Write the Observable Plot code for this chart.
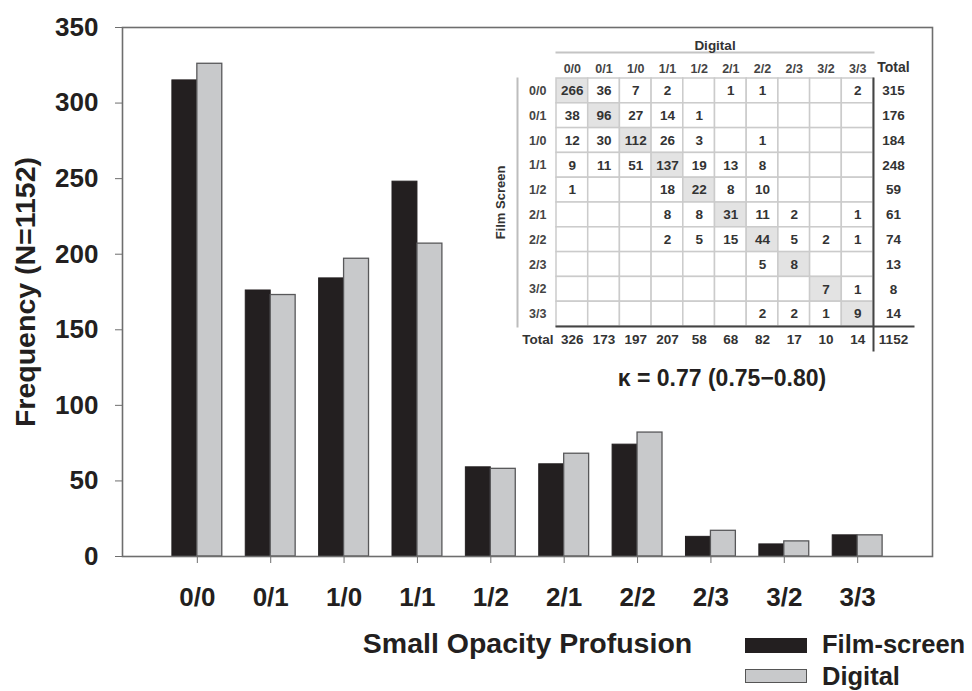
<!DOCTYPE html>
<html><head><meta charset="utf-8">
<script src="https://cdn.jsdelivr.net/npm/d3@7"></script>
<script src="https://cdn.jsdelivr.net/npm/@observablehq/plot@0.6"></script>
<style>
body{margin:0;background:#fff;}
#wrap{position:relative;width:972px;height:691px;font-family:"Liberation Sans",Arial,sans-serif;}
#inset{position:absolute;left:490px;top:30px;}
.sw{position:absolute;left:745px;width:62px;box-sizing:border-box;}
.lt{position:absolute;left:822px;font-weight:bold;font-size:25.5px;color:#231f20;line-height:1;}
</style></head><body>
<div id="wrap"><div id="inset"></div>
<div class="sw" style="top:638px;height:15px;background:#231f20;"></div>
<div class="lt" style="top:632px;">Film-screen</div>
<div class="sw" style="top:669px;height:14px;background:#c8c9cb;border:1.5px solid #555;"></div>
<div class="lt" style="top:664px;">Digital</div>
</div>
<script>
const categories = ["0/0","0/1","1/0","1/1","1/2","2/1","2/2","2/3","3/2","3/3"];
const filmScreen = [315,176,184,248,59,61,74,13,8,14];
const digital = [326,173,197,207,58,68,82,17,10,14];
const yTicks = [0,50,100,150,200,250,300,350];
const grandTotal = 1152;
const kappaText = "κ = 0.77 (0.75−0.80)";
// rows: film-screen reading, columns: digital reading
const crossTab = [
  [266,36,7,2,null,1,1,null,null,2],
  [38,96,27,14,1,null,null,null,null,null],
  [12,30,112,26,3,null,1,null,null,null],
  [9,11,51,137,19,13,8,null,null,null],
  [1,null,null,18,22,8,10,null,null,null],
  [null,null,null,8,8,31,11,2,null,1],
  [null,null,null,2,5,15,44,5,2,1],
  [null,null,null,null,null,null,5,8,null,null],
  [null,null,null,null,null,null,null,null,7,1],
  [null,null,null,null,null,null,2,2,1,9]
];

const FONT = "Liberation Sans, Arial, sans-serif";
const barData = categories.map((c,i)=>({cat:c, film:filmScreen[i], digital:digital[i]}));
const pIn = 0.32, pOut = 0.68;
const step = (972-122-40)/(categories.length - pIn + 2*pOut);
const half = step*(1-pIn)/2;

const main = Plot.plot({
  width:972, height:691, marginLeft:122, marginRight:40, marginTop:27, marginBottom:135,
  style:{fontFamily:FONT, fontWeight:"bold", fontSize:"26px", color:"#231f20", background:"transparent"},
  x:{type:"band", domain:categories, paddingInner:pIn, paddingOuter:pOut, round:false},
  y:{domain:[0,350]},
  marks:[
    Plot.barY(barData,{x:"cat", y:"film", fill:"#231f20", stroke:"#231f20", strokeWidth:1, insetRight:half}),
    Plot.barY(barData,{x:"cat", y:"digital", fill:"#c8c9cb", stroke:"#58585a", strokeWidth:1.3, insetLeft:half}),
    Plot.frame({stroke:"#6e6e6e", strokeWidth:1.6}),
    Plot.axisY({ticks:yTicks, tickSize:7, tickPadding:17, stroke:"#6e6e6e", fill:"#231f20", fontSize:26, label:null}),
    Plot.axisY({ticks:[], label:"Frequency (N=1152)", labelAnchor:"center", labelOffset:108, labelArrow:"none", fontSize:28.5, fill:"#231f20"}),
    Plot.axisX({tickSize:7, tickPadding:24, stroke:"#6e6e6e", fill:"#231f20", fontSize:26, label:null}),
    Plot.axisX({ticks:[], label:"Small Opacity Profusion", labelAnchor:"center", labelOffset:96, labelArrow:"none", fontSize:28.5, fill:"#231f20"})
  ]
});
document.getElementById("wrap").prepend(main);

const cellData = [];
categories.forEach((r,i)=>categories.forEach((c,j)=>cellData.push({row:r, col:c, v:crossTab[i][j], diag:i===j})));
const rowTotals = categories.map((c,i)=>({row:c, t:filmScreen[i]}));
const colTotals = categories.map((c,i)=>({col:c, t:digital[i]}));

const inset = Plot.plot({
  width:450, height:370, marginLeft:66, marginRight:67, marginTop:48, marginBottom:74,
  style:{fontFamily:FONT, fontWeight:"bold", fontSize:"13px", color:"#333", background:"transparent"},
  x:{type:"band", domain:categories, padding:0, round:false},
  y:{type:"band", domain:categories, padding:0, round:false},
  marks:[
    Plot.cell(cellData,{x:"col", y:"row", fill:d=>d.diag?"#e3e3e3":"#ffffff", stroke:"#cbcbcb", strokeWidth:1.5}),
    Plot.text(cellData.filter(d=>d.v!=null),{x:"col", y:"row", text:d=>String(d.v), fill:"#333", fontSize:13.5}),
    Plot.frame({anchor:"bottom", stroke:"#444", strokeWidth:2, insetRight:-40}),
    Plot.frame({anchor:"right", stroke:"#444", strokeWidth:2, insetBottom:-24}),
    Plot.frame({anchor:"top", stroke:"#c4c4c4", strokeWidth:2, insetTop:-26}),
    Plot.frame({anchor:"left", stroke:"#bdbdbd", strokeWidth:2, insetLeft:-39}),
    Plot.axisX({anchor:"top", tickSize:0, tickPadding:6, label:null, fill:"#444", fontSize:12.5}),
    Plot.axisY({anchor:"left", tickSize:0, tickPadding:10, label:null, fill:"#444", fontSize:12.5}),
    Plot.text(rowTotals,{y:"row", text:d=>String(d.t), frameAnchor:"right", textAnchor:"middle", dx:20, fill:"#333", fontSize:13.5}),
    Plot.text(colTotals,{x:"col", text:d=>String(d.t), frameAnchor:"bottom", dy:17, fill:"#333", fontSize:13.5}),
    Plot.text(["Total"],{text:d=>d, frameAnchor:"bottom-left", textAnchor:"end", dx:-3, dy:17, fill:"#333", fontSize:13.5}),
    Plot.text(["Total"],{text:d=>d, frameAnchor:"top-right", textAnchor:"middle", dx:20, dy:-16, fill:"#333", fontSize:14}),
    Plot.text([grandTotal],{text:d=>String(d), frameAnchor:"bottom-right", textAnchor:"middle", dx:20, dy:17, fill:"#333", fontSize:13.5}),
    Plot.text(["Digital"],{text:d=>d, frameAnchor:"top", dy:-38, fill:"#333", fontSize:13.5}),
    Plot.text(["Film Screen"],{text:d=>d, frameAnchor:"left", textAnchor:"middle", rotate:-90, dx:-56, fill:"#333", fontSize:13}),
    Plot.text([kappaText],{text:d=>d, frameAnchor:"bottom", dx:7, dy:59, fill:"#231f20", fontSize:23})
  ]
});
document.getElementById("inset").append(inset);
</script>
</body></html>
